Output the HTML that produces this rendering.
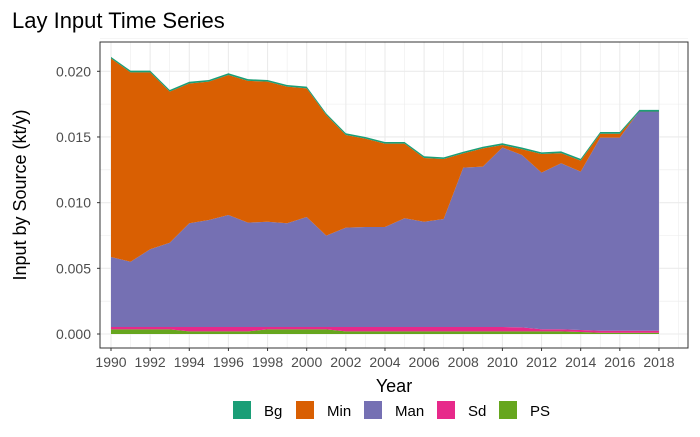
<!DOCTYPE html>
<html><head><meta charset="utf-8"><style>
body{margin:0;background:#fff;font-family:"Liberation Sans",Arial,sans-serif}
svg text{font-family:"Liberation Sans",Arial,sans-serif}
</style></head><body>
<svg id="chart" width="700" height="432" viewBox="0 0 700 432" xmlns="http://www.w3.org/2000/svg">
<rect width="700" height="432" fill="#fff"/>
<text x="12" y="28" font-size="22" fill="#000">Lay Input Time Series</text>
<g id="grid"></g>
<g id="areas"></g>
<rect x="100" y="42" width="588" height="306" fill="none" stroke="#333" stroke-width="1"/>
<g id="axes"></g>
<text transform="translate(26,195) rotate(-90)" text-anchor="middle" font-size="18" fill="#000">Input by Source (kt/y)</text>
<text x="394" y="392" text-anchor="middle" font-size="18" fill="#000">Year</text>
<g id="legend"></g>
</svg>
<script>
const years=[1990,1991,1992,1993,1994,1995,1996,1997,1998,1999,2000,2001,2002,2003,2004,2005,2006,2007,2008,2009,2010,2011,2012,2013,2014,2015,2016,2017,2018];
const totalTop=[21.1,20.05,20.05,18.58,19.2,19.34,19.85,19.4,19.34,18.96,18.83,16.8,15.28,15.0,14.62,14.62,13.53,13.45,13.88,14.26,14.52,14.2,13.83,13.9,13.33,15.38,15.38,17.06,17.06];
const manTop=[5.86,5.5,6.45,6.95,8.43,8.68,9.06,8.48,8.55,8.43,8.91,7.49,8.1,8.15,8.15,8.81,8.55,8.76,12.67,12.74,14.2,13.63,12.29,13.0,12.36,14.95,14.95,16.98,16.98];
const sdTop=[0.53,0.53,0.53,0.53,0.53,0.53,0.53,0.53,0.53,0.53,0.53,0.53,0.53,0.53,0.53,0.53,0.53,0.53,0.53,0.53,0.53,0.5,0.36,0.36,0.3,0.25,0.25,0.25,0.25];
const psVal=[0.35,0.35,0.35,0.35,0.2,0.2,0.2,0.2,0.35,0.35,0.35,0.35,0.2,0.2,0.2,0.2,0.2,0.2,0.2,0.2,0.2,0.2,0.2,0.2,0.15,0.1,0.1,0.1,0.1];
const yTicks=[0,0.005,0.010,0.015,0.020];
const yTickLabels=["0.000","0.005","0.010","0.015","0.020"];
const xTicks=[1990,1992,1994,1996,1998,2000,2002,2004,2006,2008,2010,2012,2014,2016,2018];
const seriesNames=["Bg","Min","Man","Sd","PS"];
const seriesColors=["#1b9e77","#d95f02","#7570b3","#e7298a","#66a61e"];

const NS="http://www.w3.org/2000/svg";
const X=yr=>111+(yr-1990)*19.57;
const Y=v=>334-v*13135;
function mk(tag,attrs,parent){const e=document.createElementNS(NS,tag);for(const k in attrs)e.setAttribute(k,attrs[k]);parent.appendChild(e);return e;}
const grid=document.getElementById('grid'),areas=document.getElementById('areas'),axes=document.getElementById('axes'),legend=document.getElementById('legend');
for(let i=0;i<yTicks.length;i++){
  const l=mk('line',{x1:100,x2:688,y1:Y(yTicks[i]),y2:Y(yTicks[i]),stroke:'#ebebeb','stroke-width':1.1},grid);
  
  
  if(i<yTicks.length-1){const m=(yTicks[i]+yTicks[i+1])/2;
    const l2=mk('line',{x1:100,x2:688,y1:Y(m),y2:Y(m),stroke:'#ebebeb','stroke-width':0.55},grid);
    
    }
}
const l3=mk('line',{x1:100,x2:688,y1:Y(0.0225),y2:Y(0.0225),stroke:'#ebebeb','stroke-width':0.55},grid);


for(let yr=1989;yr<=2019;yr++){
  const x=X(yr); if(x<100||x>688)continue;
  const l=mk('line',{x1:x,x2:x,y1:42,y2:348,stroke:'#ebebeb','stroke-width':(yr%2===0)?1.1:0.55},grid);
  
  
}
const n=years.length;
const ps=psVal.map(v=>v/1000), sdT=sdTop.map(v=>v/1000), manT=manTop.map(v=>v/1000), tot=totalTop.map(v=>v/1000);
const bgThick=0.00013;
const bounds=[
 ["PS",years.map(()=>0),ps],
 ["Sd",ps,sdT],
 ["Man",sdT,manT],
 ["Min",manT,tot.map(t=>t-bgThick)],
 ["Bg",tot.map(t=>t-bgThick),tot]
];
bounds.forEach(([name,lo,hi])=>{
  let d='';
  for(let i=0;i<n;i++)d+=(i?'L':'M')+X(years[i]).toFixed(2)+','+Y(hi[i]).toFixed(2);
  for(let i=n-1;i>=0;i--)d+='L'+X(years[i]).toFixed(2)+','+Y(lo[i]).toFixed(2);
  d+='Z';
  const p=mk('path',{d:d,fill:seriesColors[seriesNames.indexOf(name)]},areas);
  
  
});
yTicks.forEach((v,i)=>{
  const t=mk('line',{x1:97,x2:100,y1:Y(v),y2:Y(v),stroke:'#333'},axes);
  
  
  const tx=mk('text',{x:91,y:Y(v)+5,'text-anchor':'end','font-size':14,fill:'#4d4d4d'},axes);
  tx.textContent=yTickLabels[i];
  
  
});
xTicks.forEach(yr=>{
  const t=mk('line',{x1:X(yr),x2:X(yr),y1:348,y2:351,stroke:'#333'},axes);
  
  
  const tx=mk('text',{x:X(yr),y:367,'text-anchor':'middle','font-size':14,fill:'#4d4d4d'},axes);
  tx.textContent=String(yr);
  
  
});
const keyX=[233,296,364,437,499];
seriesNames.forEach((nm,i)=>{
  const r=mk('rect',{x:keyX[i],y:401,width:18,height:18,fill:seriesColors[i]},legend);
  
  
  const tx=mk('text',{x:keyX[i]+31,y:416,'font-size':15,fill:'#000'},legend);
  tx.textContent=nm;
  
  
});
</script>
</body></html>
